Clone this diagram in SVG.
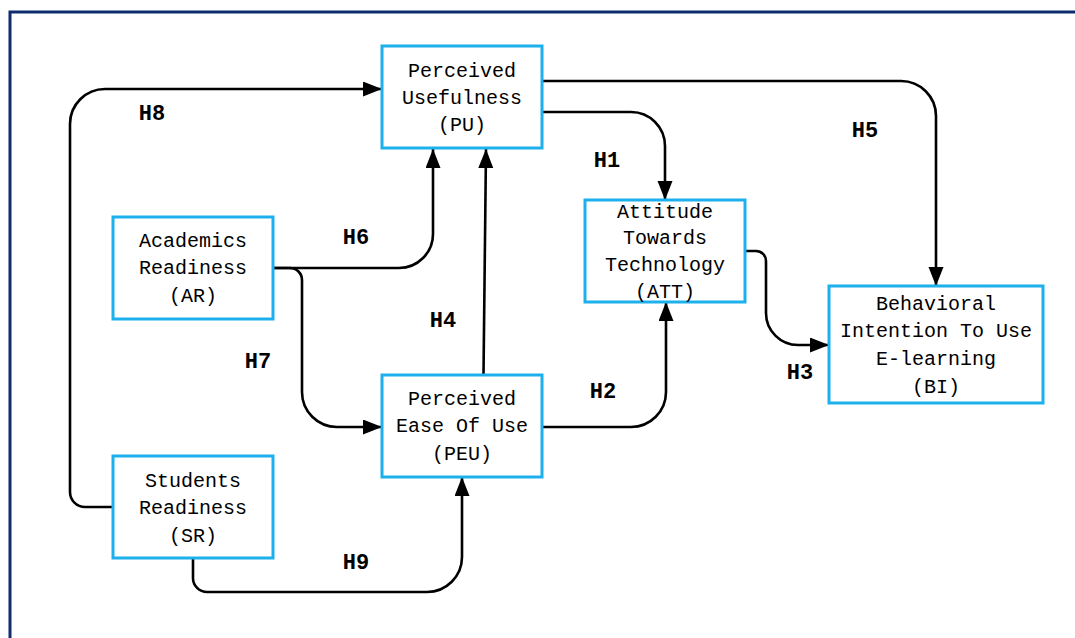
<svg xmlns="http://www.w3.org/2000/svg" width="1075" height="638" viewBox="0 0 1075 638">
<style>
.frame{fill:none;stroke:#0f2d6e;stroke-width:3}
.box{fill:#fff;stroke:#1cb0ec;stroke-width:3}
.t{font-family:"Liberation Mono","Courier New",monospace;font-size:20px;fill:#000;text-anchor:middle}
.lbl{font-family:"Liberation Mono","Courier New",monospace;font-size:22px;font-weight:bold;fill:#000;text-anchor:middle}
.c{fill:none;stroke:#000;stroke-width:2.6;marker-end:url(#ah)}
</style>
<defs>
<marker id="ah" markerUnits="userSpaceOnUse" markerWidth="20" markerHeight="16" refX="19" refY="7.5" orient="auto">
<path d="M0,0 L19,7.5 L0,15 z" fill="#000"/>
</marker>
</defs>
<rect width="1075" height="638" fill="#fff"/>
<path class="frame" d="M10,638 V12 H1075"/>
<g id="connectors">
<path class="c" d="M113,507 H85 A15,15 0 0 1 70,492 V124 A35,35 0 0 1 105,89 H382"/>
<path class="c" d="M542,81 H901 A35,35 0 0 1 936,116 V286"/>
<path class="c" d="M542,112 H631 A34,34 0 0 1 665,146 V200"/>
<path class="c" d="M273,268 H399 A34,34 0 0 0 433,234 V149"/>
<path class="c" d="M273,268 H290 A12,12 0 0 1 302,280 V392 A35,35 0 0 0 337,427 H382"/>
<path class="c" d="M542,427 H631 A35,35 0 0 0 666,392 V302"/>
<path class="c" d="M745,251 H756 A10,10 0 0 1 766,261 V313 A32,32 0 0 0 798,345 H829"/>
<path class="c" d="M193,558 V578 A14,14 0 0 0 207,592 H427 A35,35 0 0 0 462,557 V477"/>
<path class="c" d="M483.5,375 L486,149"/>
<text class="lbl" x="152" y="120">H8</text>
<text class="lbl" x="865" y="137">H5</text>
<text class="lbl" x="607" y="167">H1</text>
<text class="lbl" x="356" y="244">H6</text>
<text class="lbl" x="258" y="368">H7</text>
<text class="lbl" x="443" y="327">H4</text>
<text class="lbl" x="603" y="398">H2</text>
<text class="lbl" x="800" y="379">H3</text>
<text class="lbl" x="356" y="569">H9</text>
</g>
<g id="PU">
<rect class="box" x="382" y="46" width="160" height="102"/>
<text class="t" x="462" y="77">Perceived</text>
<text class="t" x="462" y="104">Usefulness</text>
<text class="t" x="462" y="131">(PU)</text>
</g>
<g id="ATT">
<rect class="box" x="585" y="200" width="160" height="102"/>
<text class="t" x="665" y="218">Attitude</text>
<text class="t" x="665" y="244">Towards</text>
<text class="t" x="665" y="271">Technology</text>
<text class="t" x="665" y="298">(ATT)</text>
</g>
<g id="AR">
<rect class="box" x="113" y="217" width="160" height="102"/>
<text class="t" x="193" y="247">Academics</text>
<text class="t" x="193" y="274">Readiness</text>
<text class="t" x="193" y="302">(AR)</text>
</g>
<g id="PEU">
<rect class="box" x="382" y="375" width="160" height="102"/>
<text class="t" x="462" y="405">Perceived</text>
<text class="t" x="462" y="432">Ease Of Use</text>
<text class="t" x="462" y="460">(PEU)</text>
</g>
<g id="SR">
<rect class="box" x="113" y="456" width="160" height="102"/>
<text class="t" x="193" y="487">Students</text>
<text class="t" x="193" y="514">Readiness</text>
<text class="t" x="193" y="542">(SR)</text>
</g>
<g id="BI">
<rect class="box" x="829" y="286" width="214" height="117"/>
<text class="t" x="936" y="310">Behavioral</text>
<text class="t" x="936" y="337">Intention To Use</text>
<text class="t" x="936" y="365">E-learning</text>
<text class="t" x="936" y="393">(BI)</text>
</g>
</svg>
